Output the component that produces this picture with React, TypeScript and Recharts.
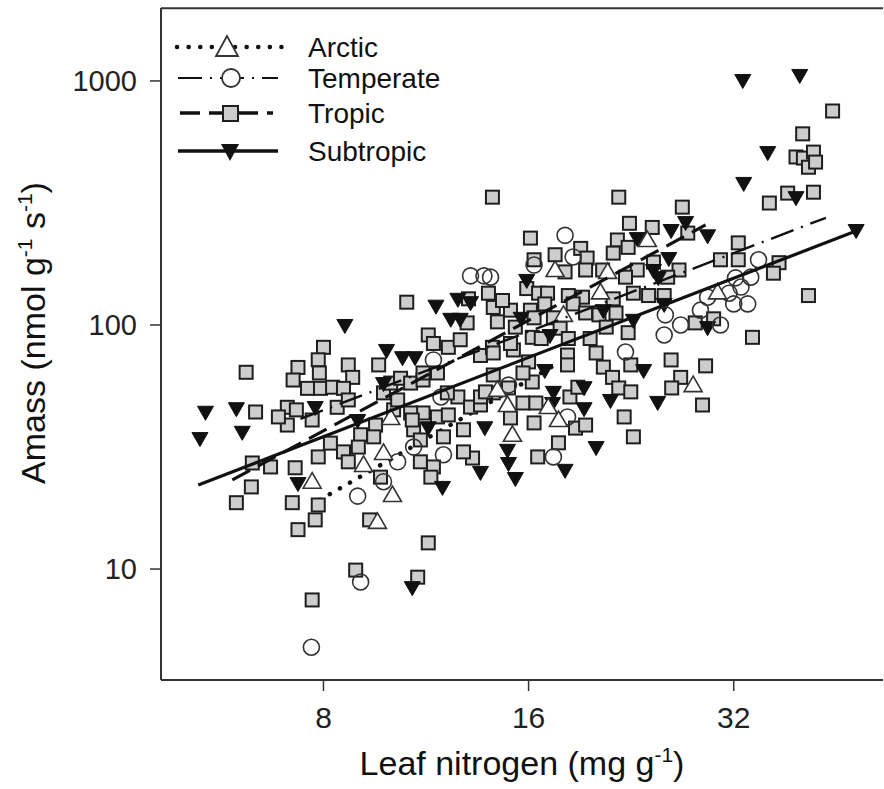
import React from 'react';
import { ScatterChart, Scatter, XAxis, YAxis, ReferenceLine } from 'recharts';

const X_TICKS = [8, 16, 32];
const Y_TICKS = [10, 100, 1000];
const X_DOMAIN: [number, number] = [4.62, 53];
const Y_DOMAIN: [number, number] = [3.51, 1990];

// Tropic (grey squares)
const tropicN = [10.6, 8.0, 6.16, 7.34, 7.22, 7.86, 7.89, 8.70, 8.83, 7.58,
  7.92, 8.25, 8.56, 7.08, 7.08, 6.87, 7.30, 7.70, 8.38, 8.70,
  6.36, 9.64, 6.29, 6.69, 7.27, 7.86, 6.27, 5.96, 7.20, 7.86,
  7.78, 7.34, 8.19, 8.56, 8.70, 9.07, 9.54, 9.48, 9.70, 9.35,
  11.4, 8.92, 11.0, 7.70, 9.80, 10.04, 10.38, 10.74, 11.2, 11.4,
  11.6, 12.2, 12.7, 13.0, 13.6, 14.2, 14.4, 15.05, 15.2, 11.2,
  11.76, 10.85, 10.74, 10.14, 11.1, 12.0, 12.6, 13.15, 12.84, 13.6,
  14.2, 15.05, 11.6, 11.5, 11.1, 13.24, 13.6, 14.2, 14.95, 10.28,
  11.2, 11.76, 12.16, 14.16, 12.2, 10.8, 12.84, 13.83, 14.2, 9.0,
  14.16, 13.06, 13.97, 21.7, 26.9, 16.1, 22.5, 24.3, 21.6, 22.4,
  19.08, 16.3, 17.5, 19.5, 21.3, 19.4, 18.1, 20.55, 23.1, 22.2,
  24.4, 26.6, 25.6, 14.65, 15.9, 16.55, 17.06, 18.3, 19.2, 16.1,
  16.9, 15.3, 16.3, 16.2, 17.4, 18.6, 19.4, 20.3, 21.3, 21.5,
  22.4, 24.0, 22.8, 25.3, 17.8, 16.7, 18.3, 19.7, 15.05, 20.8,
  16.0, 16.2, 15.7, 16.3, 18.4, 18.9, 18.75, 19.4, 17.7, 16.5,
  18.25, 20.1, 20.6, 21.25, 21.7, 22.6, 22.6, 22.1, 22.8, 25.9,
  26.75, 25.95, 15.7, 16.4, 18.25, 32.5, 30.6, 32.5, 37.3, 36.6,
  41.2, 34.1, 29.9, 28.1, 29.1, 28.8, 44.7, 40.4, 39.5, 40.5,
  41.9, 41.2, 42.2, 41.9, 38.4, 36.1, 27.4];
const tropicA = [124, 81, 64, 67, 59.5, 72, 63.6, 68.6, 61, 55,
  55, 55.6, 55, 46, 38.9, 42, 44.9, 40.8, 46, 49.3,
  44, 68.6, 27.2, 26.2, 26, 28.8, 21.7, 18.7, 18.7, 18.3,
  15.9, 14.5, 32.8, 30.2, 27.5, 35.5, 38.9, 34.8, 23.8, 15.9,
  12.8, 9.9, 9.26, 7.47, 52.7, 57.8, 60.5, 57.8, 59.5, 91,
  84, 81, 87, 102, 75, 118, 103, 115, 79, 43.6,
  42, 37.2, 43.6, 44.9, 33.8, 34.8, 50.7, 46.1, 37.2, 47,
  52.7, 41.6, 26.2, 23.8, 27.5, 28.5, 50.7, 62.4, 55.2, 49.3,
  63.6, 63.6, 52.7, 81, 42.8, 40.8, 30.2, 53.2, 76.8, 31.6,
  334, 128, 135, 334, 304, 227, 261, 251, 223, 208,
  206, 185, 194, 188, 197, 168, 165, 168, 168, 157,
  181, 168, 157, 126, 141, 135, 135, 132, 130, 115,
  122, 98, 107, 89, 107, 122, 112, 110, 128, 112,
  93, 132, 135, 132, 97, 88, 88, 88, 84, 98,
  70.6, 58.4, 47.9, 39.7, 50.7, 55.6, 37.8, 38.9, 32.9, 28.8,
  75.3, 76.8, 67.2, 61, 55.2, 68.6, 53.2, 42, 34.8, 71.9,
  61, 55.2, 63.6, 47.9, 68.6, 217, 185, 185, 180, 163,
  132, 89, 106, 102, 68, 47, 753, 607, 488, 483,
  511, 443, 465, 350, 347, 316, 238];

// Subtropic (black down triangles)
const subN = [8.6, 9.9, 10.45, 10.9, 5.37, 5.96, 5.27, 6.08, 7.78, 7.34,
  14.9, 14.95, 13.6, 15.3, 11.96, 10.8, 8.98, 12.3, 11.7, 13.15,
  13.8, 12.6, 9.8, 11.4, 23.1, 25.9, 27.2, 24.4, 25.7, 24.8,
  15.9, 17.2, 20.6, 22.8, 25.3, 15.6, 23.6, 24.75, 21.1, 19.3,
  17.4, 17.35, 19.3, 20.1, 18.1, 16.9, 33.0, 40.0, 35.9, 33.1,
  39.5, 29.3, 48.4, 29.3, 12.7];
const subA = [100, 79, 73.8, 73.8, 44.1, 45.6, 34.4, 36.5, 46.1, 22.5,
  30.8, 27.2, 25, 23.6, 21.7, 8.43, 40.8, 106, 120, 124,
  38.1, 128, 57.8, 38.1, 227, 245, 264, 168, 188, 157,
  153, 91, 115, 105, 122, 107, 65.4, 48.4, 49.3, 55.6,
  53.2, 47.9, 45.6, 31.6, 25.5, 65.4, 1009, 1058, 511, 382,
  334, 233, 245, 98, 106];

// Arctic (open up triangles)
const arcN = [7.7, 9.16, 9.8, 10.1, 9.6, 10.04, 14.4, 14.9, 15.15, 17.5, 20.9, 23.9, 20.4, 18.0, 17.7, 17.1, 27.9, 30.3];
const arcA = [22.8, 26.7, 29.9, 20.1, 15.6, 41.6, 54.2, 47, 35.5, 168, 165, 223, 136, 110, 40.8, 46.1, 56.7, 136];

// Temperate (open circles)
const tempN = [7.68, 9.07, 8.98, 10.28, 9.8, 10.85, 12.0, 11.6, 11.9, 14.95, 13.15, 13.76, 18.1, 18.6, 16.3, 25.4,
  26.75, 25.3, 14.07, 18.25, 17.4, 22.2, 28.6, 30.6, 32.0, 33.55, 33.9, 34.8, 32.8, 31.5, 32.2, 29.3];
const tempA = [4.78, 8.85, 19.9, 27.5, 22.8, 31.6, 29.4, 71.9, 50.7, 56.7, 159, 159, 233, 190, 176, 110,
  100, 91, 157, 42, 28.8, 77.5, 115, 100, 122, 122, 157, 185, 143, 135, 156, 130];

// Fitted lines (end points)
const tropicFitN = [5.88, 29.1];
const tropicFitA = [23.2, 257];
const subFitN = [5.24, 48.8];
const subFitA = [22.1, 245];
const tempFitN = [7.4, 43.7];
const tempFitA = [41.2, 275];
const arcFitN = [7.9, 17.8];
const arcFitA = [19.2, 70.5];

const toPts = (xs: number[], ys: number[]) => xs.map((x, i) => ({ x, y: ys[i] }));

const FONT = "'Liberation Sans', Arial, Helvetica, sans-serif";

const Square = (p: any) => (
  <rect x={p.cx - 6.5} y={p.cy - 6.5} width={13} height={13} fill="#cdcdcd" stroke="#1e1e1e" strokeWidth={2} />
);
const DownTri = (p: any) => (
  <polygon points={`${p.cx - 8},${p.cy - 5.5} ${p.cx + 8},${p.cy - 5.5} ${p.cx},${p.cy + 8.5}`} fill="#111" stroke="#111" strokeWidth={1} />
);
const UpTri = (p: any) => (
  <polygon points={`${p.cx},${p.cy - 9} ${p.cx - 9},${p.cy + 6.5} ${p.cx + 9},${p.cy + 6.5}`} fill="#fff" stroke="#333" strokeWidth={1.6} />
);
const Circ = (p: any) => <circle cx={p.cx} cy={p.cy} r={8} fill="none" stroke="#333" strokeWidth={1.6} />;
const NoShape = () => <g />;

const YTick = (p: any) => (
  <text x={p.x} y={p.y} dy="0.36em" textAnchor="end" fontSize={29} fill="#222" fontFamily={FONT}>
    {p.payload.value}
  </text>
);
const XTick = (p: any) => (
  <text x={p.x} y={p.y} dy={37} textAnchor="middle" fontSize={30} fill="#222" fontFamily={FONT}>
    {p.payload.value}
  </text>
);

export default function App() {
  return (
    <div style={{ position: 'absolute', left: 0, top: 0, width: 884, height: 789, background: '#fff' }}>
      <ScatterChart width={884} height={789} margin={{ top: 8, right: 1, bottom: 49, left: 61 }}>
        <XAxis
          type="number"
          dataKey="x"
          scale="log"
          domain={X_DOMAIN}
          allowDataOverflow
          ticks={X_TICKS}
          height={60}
          tickSize={11}
          tickMargin={0}
          tick={<XTick />}
          axisLine={{ stroke: '#333', strokeWidth: 2 }}
          tickLine={{ stroke: '#333', strokeWidth: 1.5 }}
        />
        <YAxis
          type="number"
          dataKey="y"
          scale="log"
          domain={Y_DOMAIN}
          allowDataOverflow
          ticks={Y_TICKS}
          width={100}
          tickSize={11}
          tickMargin={13}
          tick={<YTick />}
          axisLine={{ stroke: '#333', strokeWidth: 2 }}
          tickLine={{ stroke: '#333', strokeWidth: 1.5 }}
        />
        <ReferenceLine y={1985} stroke="#333" strokeWidth={2} />
        <Scatter data={toPts(arcFitN, arcFitA)} shape={NoShape} line={{ stroke: '#111', strokeWidth: 4.5, strokeDasharray: '0.1 11.5', strokeLinecap: 'round' }} isAnimationActive={false} />
        <Scatter data={toPts(tropicN, tropicA)} shape={Square} isAnimationActive={false} />
        <Scatter data={toPts(subN, subA)} shape={DownTri} isAnimationActive={false} />
        <Scatter data={toPts(tempN, tempA)} shape={Circ} isAnimationActive={false} />
        <Scatter data={toPts(arcN, arcA)} shape={UpTri} isAnimationActive={false} />
        <Scatter data={toPts(tropicFitN, tropicFitA)} shape={NoShape} line={{ stroke: '#111', strokeWidth: 3.2, strokeDasharray: '20 9' }} isAnimationActive={false} />
        <Scatter data={toPts(tempFitN, tempFitA)} shape={NoShape} line={{ stroke: '#111', strokeWidth: 2.4, strokeDasharray: '24 8 2 8' }} isAnimationActive={false} />
        <Scatter data={toPts(subFitN, subFitA)} shape={NoShape} line={{ stroke: '#111', strokeWidth: 3.2 }} isAnimationActive={false} />
      </ScatterChart>
      <svg style={{ position: 'absolute', left: 0, top: 0, pointerEvents: 'none' }} width={884} height={789}>
        <g fontFamily={FONT} fill="#111">
          {/* Arctic */}
          <line x1={177} x2={284} y1={47} y2={47} stroke="#111" strokeWidth={4.5} strokeDasharray="0.1 11.5" strokeLinecap="round" />
          <polygon points="227,36 216,56 238,56" fill="#fff" stroke="#333" strokeWidth={1.8} />
          <text x={308} y={47} dy="0.36em" fontSize={28}>Arctic</text>
          {/* Temperate */}
          <line x1={178} x2={278} y1={78} y2={78} stroke="#111" strokeWidth={2} strokeDasharray="24 8 2 8" />
          <circle cx={231} cy={78} r={9} fill="#fff" stroke="#333" strokeWidth={1.8} />
          <text x={308} y={78} dy="0.36em" fontSize={28}>Temperate</text>
          {/* Tropic */}
          <line x1={180} x2={273} y1={113} y2={113} stroke="#111" strokeWidth={3.5} strokeDasharray="20 9" />
          <rect x={223} y={106} width={15} height={15} fill="#cdcdcd" stroke="#1e1e1e" strokeWidth={2} />
          <text x={308} y={113} dy="0.36em" fontSize={28}>Tropic</text>
          {/* Subtropic */}
          <line x1={178} x2={278} y1={151} y2={151} stroke="#111" strokeWidth={3.5} />
          <polygon points="221,144 239,144 230,161" fill="#111" />
          <text x={308} y={151} dy="0.36em" fontSize={28}>Subtropic</text>
          {/* Axis titles */}
          <text x={522} y={775} textAnchor="middle" fontSize={34}>
            Leaf nitrogen (mg g<tspan dy={-13} fontSize={21}>-1</tspan><tspan dy={13}>)</tspan>
          </text>
          <text transform="translate(45,333) rotate(-90)" textAnchor="middle" fontSize={34}>
            Amass (nmol g<tspan dy={-13} fontSize={21}>-1</tspan><tspan dy={13}> s</tspan><tspan dy={-13} fontSize={21}>-1</tspan><tspan dy={13}>)</tspan>
          </text>
        </g>
      </svg>
    </div>
  );
}
